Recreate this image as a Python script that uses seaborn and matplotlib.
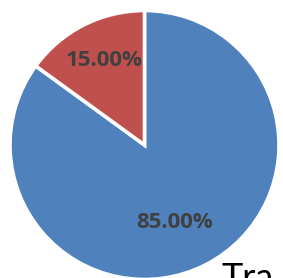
import matplotlib
matplotlib.use('Agg')
import matplotlib.pyplot as plt
import seaborn as sns

sns.set_theme(style="white")

# data
labels = ['Other', 'Red']
shares = [85.0, 15.0]
colors = ['#4F81BD', '#C0504D']

W, H = 283, 278
fig = plt.figure(figsize=(W / 100, H / 100), dpi=100)
fig.patch.set_facecolor('white')

# pie box: centre (144.5, 145) px from top-left, radius 134.5 px
R = 134.5
ax = fig.add_axes([(144.5 - R) / W, (H - 145 - R) / H, 2 * R / W, 2 * R / H])

wedges, texts, autotexts = ax.pie(
    shares, colors=colors, startangle=90, counterclock=False,
    autopct='%.2f%%', pctdistance=0.66,
    wedgeprops=dict(edgecolor='white', linewidth=2.6),
    textprops=dict(color='#404040', fontsize=16, fontweight='bold',
                   family='Open Sans'))

# label spots as in the reference (pixel centres -> axes units)
label_px = [(175, 222), (104, 60)]
for t, (px, py) in zip(autotexts, label_px):
    t.set_position(((px - 144.5) / R, (145 - py) / R))

ax.set_xlim(-1, 1)
ax.set_ylim(-1, 1)
ax.set_aspect('equal')
ax.axis('off')

# cut-off title at the lower right (cut off in the reference as well)
fig.text(222 / W, (H - 289) / H, 'Tra', fontsize=26, color='black',
         family='Lato', ha='left', va='baseline')

fig.savefig('out.png', dpi=100)
plt.close()
